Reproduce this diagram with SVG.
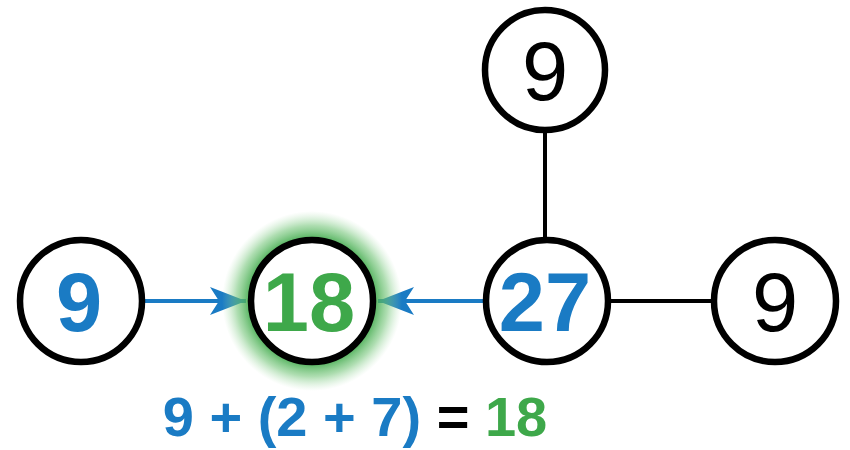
<svg xmlns="http://www.w3.org/2000/svg" width="850" height="450" viewBox="0 0 850 450">
<style>
.node{fill:#fff;stroke:#000;stroke-width:6.5}
.num{font-family:"Liberation Sans",Arial,sans-serif;font-size:83px;text-anchor:middle}
.b{font-weight:bold}
.blue{fill:#1a7bc4}
.green{fill:#3ea84a}
.blk{fill:#000}
.edge{stroke:#000;stroke-width:4;fill:none}
.arr{stroke:#1a7bc4;stroke-width:4;fill:none}
.eq{font-family:"Liberation Sans",Arial,sans-serif;font-size:56px;font-weight:bold;text-anchor:middle}
</style>
<defs>
<radialGradient id="glow" cx="0.5" cy="0.5" r="0.5">
<stop offset="0.68" stop-color="#3ea84a" stop-opacity="0.95"/>
<stop offset="0.84" stop-color="#6cc271" stop-opacity="0.55"/>
<stop offset="1" stop-color="#a5dba8" stop-opacity="0"/>
</radialGradient>
<marker id="ah" markerUnits="userSpaceOnUse" markerWidth="40" markerHeight="30" refX="36" refY="14" orient="auto">
<path d="M0,0 L36,14 L0,28 L9,14 Z" fill="#1a7bc4"/>
</marker>
</defs>
<g id="connectors">
<line class="edge" x1="545" y1="132" x2="545" y2="240"/>
<line class="edge" x1="608" y1="301" x2="714" y2="301"/>
<line class="arr" x1="143" y1="301" x2="246" y2="301" marker-end="url(#ah)"/>
<line class="arr" x1="484" y1="301" x2="378" y2="301" marker-end="url(#ah)"/>
</g>
<g id="node-top">
<circle class="node" cx="545" cy="70" r="60"/>
<text class="num blk" x="545" y="100">9</text>
</g>
<g id="node-left">
<circle class="node" cx="81" cy="301" r="61"/>
<text class="num b blue" x="79" y="331">9</text>
</g>
<g id="node-18">
<circle cx="312" cy="301" r="90" fill="url(#glow)"/>
<circle class="node" cx="312" cy="301" r="61"/>
<text class="num b green" x="309" y="331">18</text>
</g>
<g id="node-27">
<circle class="node" cx="547" cy="301" r="61"/>
<text class="num b blue" x="545" y="331">27</text>
</g>
<g id="node-right">
<circle class="node" cx="775" cy="301" r="61"/>
<text class="num blk" x="775" y="331">9</text>
</g>
<g id="equation">
<text class="eq" x="355" y="436"><tspan class="blue">9 + (2 + 7)</tspan><tspan class="blk"> = </tspan><tspan class="green">18</tspan></text>
</g>
</svg>
